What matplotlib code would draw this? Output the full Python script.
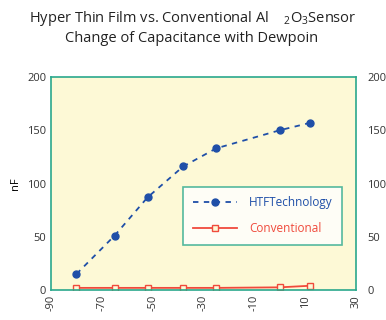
import matplotlib
matplotlib.use('Agg')
import matplotlib.pyplot as plt

plt.rcParams['font.family'] = ['Open Sans', 'DejaVu Sans']

dewpoint_htf = [-80, -65, -52, -38, -25, 0, 12]
htf_nf = [15, 51, 87, 116, 133, 150, 157]
dewpoint_conv = [-80, -65, -52, -38, -25, 0, 12]
conv_nf = [2, 2, 2, 2, 2, 2.5, 4]
xticks = [-90, -70, -50, -30, -10, 10, 30]
yticks = [0, 50, 100, 150, 200]

teal = '#2aa88c'
fig = plt.figure(figsize=(3.86, 3.2), dpi=100)
ax = fig.add_axes([51/386, 30/320, 305/386, 213/320])
ax.set_facecolor('#fdf9d6')
ax.plot(dewpoint_htf, htf_nf, '--o', color='#1f4fa8', ms=5, lw=1.3,
        dashes=(3, 3), label='HTFTechnology')
ax.plot(dewpoint_conv, conv_nf, '-s', color='#f04a3c', ms=4, lw=1.3,
        mfc='#fdf9d6', mew=1, label='Conventional')
ax.set_xlim(-90, 30)
ax.set_ylim(0, 200)
ax.set_xticks(xticks)
ax.set_yticks(yticks)
ax.set_xticklabels([str(v) for v in xticks], rotation=90, fontsize=8)
ax.tick_params(length=0, labelsize=8, colors='#333333')
ax.set_ylabel('nF', fontsize=8)
for s in ax.spines.values():
    s.set_color(teal)
    s.set_linewidth(1.2)

ax2 = ax.twinx()
ax2.set_ylim(0, 200)
ax2.set_yticks(yticks)
ax2.tick_params(length=0, labelsize=8, colors='#333333', pad=8)
for s in ax2.spines.values():
    s.set_visible(False)

leg = ax.legend(loc='upper left', bbox_to_anchor=(0.433, 0.484), borderaxespad=0,
                fontsize=8.5, frameon=True, fancybox=False, borderpad=0.8,
                labelspacing=1.1, handlelength=3.8, handletextpad=1.0)
leg.get_frame().set_edgecolor(teal)
leg.get_frame().set_linewidth(1.2)
leg.get_frame().set_facecolor('white')
for t, c in zip(leg.get_texts(), ['#1f4fa8', '#f04a3c']):
    t.set_color(c)

fig.text(0.5, 1 - 18/320, r'Hyper Thin Film vs. Conventional Al    $\mathregular{_2}$O$\mathregular{_3}$Sensor',
         ha='center', va='center', fontsize=10.5, color='#222222')
fig.text(0.495, 1 - 38/320, 'Change of Capacitance with Dewpoin',
         ha='center', va='center', fontsize=10.5, color='#222222')

fig.savefig('out.png', dpi=100)
